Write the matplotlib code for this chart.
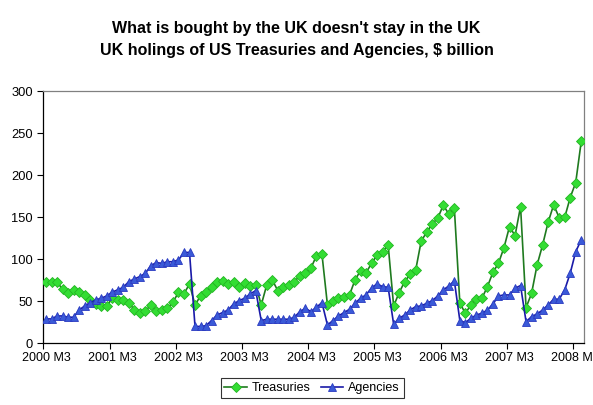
import matplotlib
matplotlib.use("Agg")
import matplotlib.pyplot as plt
import numpy as np

plt.rcParams['font.family'] = ['Liberation Sans', 'DejaVu Sans']

# Monthly data, 2000 M3 .. 2008 M4
start_year = 2000
start_month = 3
treasuries = [73, 73, 73, 64, 60, 63, 61, 57.5, 51.5, 47, 44, 44, 54, 51, 51, 48,
              40, 36, 38.5, 45.5, 38.5, 39.5, 41.5, 49, 60.5, 59, 70.5, 45.5, 56.5, 61.5,
              67.4, 72.6, 73.8, 70.6, 72.6, 67.4, 71.4, 68.2, 69.4, 45.6, 69.4, 75.4,
              62.6, 67.4, 69.4, 73.4, 80.1, 83.3, 89.3, 104, 106.3, 45.6, 50.4, 53.6,
              54.5, 57.5, 75.4, 86.4, 84, 95, 105, 109, 117, 44.4, 60.3, 73.4, 82, 87.3,
              121.8, 132, 142, 148.8, 164.3, 153.6, 160.7, 47.6, 35.7, 45.6, 52.7, 53.6,
              67.4, 84.5, 95.2, 113.8, 138.8, 128, 162.6, 42.4, 59.5, 93.2, 117, 144,
              164.6, 149.5, 149.6, 173.3, 191.2, 240]
agencies = [29, 29, 32.5, 32.5, 31, 31, 39.6, 44.4, 48.3, 51.5, 53.6, 56.3, 61, 63.5,
            66.7, 73.3, 76.5, 79.3, 83.3, 92.4, 96, 95, 97, 97, 99, 108, 108, 20, 20, 21,
            27, 33.7, 36.5, 39.6, 46.8, 50.7, 53.6, 58.7, 62.6, 27, 28.6, 28.6, 28.6,
            28.6, 28.6, 31, 37.6, 41.6, 37.6, 42.8, 48.4, 21.8, 27, 32.5, 36.5, 40.4,
            47.6, 53.6, 57.5, 66, 70.6, 67.4, 66.6, 22.6, 29.7, 33.7, 39.6, 43.6, 44.4,
            47.6, 50.7, 56.3, 63.5, 68.2, 74.2, 27, 24.5, 29.7, 33.7, 35.7, 39.6, 46.8,
            56.3, 57.5, 57.5, 65.5, 68.6, 25.7, 31.7, 34.9, 39.6, 45.6, 52.4, 52.4,
            63.5, 83.3, 109, 123]
label_years = [2000, 2001, 2002, 2003, 2004, 2005, 2006, 2007, 2008]
y_ticks = [0, 50, 100, 150, 200, 250, 300]

n = len(treasuries)
x = np.arange(n)

fig = plt.figure(figsize=(5.93, 4.05), dpi=100)
ax = fig.add_axes([43.3 / 593, (405 - 343.3) / 405, (584 - 43.3) / 593, (343.3 - 91) / 405])

ax.plot(x, treasuries, color='#1f7a1f', lw=1.2, marker='D', markersize=4.8,
        markerfacecolor='#33dd33', markeredgecolor='#22b522', markeredgewidth=0.6,
        label='Treasuries', zorder=3)
ax.plot(x, agencies, color='#1a1aa8', lw=1.2, marker='^', markersize=5.8,
        markerfacecolor='#3a5ad8', markeredgecolor='#2a3ac0', markeredgewidth=0.6,
        label='Agencies', zorder=3)

ax.set_xlim(-0.5, n - 0.5)
ax.set_ylim(0, 300)
ax.set_yticks(y_ticks)
ax.tick_params(axis='y', direction='out', length=4, labelsize=9.3, width=0.8)

idx = [(yr - start_year) * 12 for yr in label_years]
ax.set_xticks([i - 0.5 for i in idx])
ax.set_xticklabels([])
ax.set_xticks(idx, minor=True)
ax.set_xticklabels([f"{yr} M{start_month}" for yr in label_years], minor=True, fontsize=9)
ax.tick_params(axis='x', which='major', direction='out', length=4, width=0.8)
ax.tick_params(axis='x', which='minor', length=0, pad=6)

for s in ['top', 'right']:
    ax.spines[s].set_color('#808080')
    ax.spines[s].set_linewidth(0.9)
for s in ['left', 'bottom']:
    ax.spines[s].set_color('black')
    ax.spines[s].set_linewidth(0.9)

fig.text(0.5, 1 - 28 / 405, "What is bought by the UK doesn't stay in the UK",
         ha='center', va='center', fontsize=11.5, fontweight='bold')
fig.text(0.5, 1 - 50 / 405, "UK holings of US Treasuries and Agencies, $ billion",
         ha='center', va='center', fontsize=11.5, fontweight='bold')

leg = fig.legend(loc='center', bbox_to_anchor=(312 / 593, 17 / 405), ncol=2,
                 frameon=True, fancybox=False, fontsize=9, handlelength=1.8,
                 columnspacing=0.8, handletextpad=0.4, borderpad=0.3)
leg.get_frame().set_edgecolor('black')
leg.get_frame().set_linewidth(0.8)

fig.savefig('out.png', dpi=100)
